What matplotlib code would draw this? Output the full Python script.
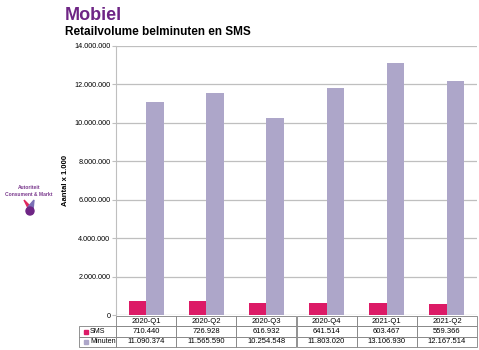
import numpy as np
import matplotlib.pyplot as plt
from matplotlib.patches import Polygon, Circle

quarters = ['2020-Q1', '2020-Q2', '2020-Q3', '2020-Q4', '2021-Q1', '2021-Q2']
sms = [710440, 726928, 616932, 641514, 603467, 559366]
minuten = [11090374, 11565590, 10254548, 11803020, 13106930, 12167514]
series_names = ['SMS', 'Minuten']
yticks = np.arange(0, 14000001, 2000000)

pink = '#DC1A66'
lav = '#ADA6C9'
grid_col = '#BFBFBF'
narrow = ['Liberation Sans Narrow', 'Liberation Sans', 'DejaVu Sans']

def fmt(v):
    return '{:,}'.format(int(v)).replace(',', '.')

plt.rcParams['font.family'] = ['Liberation Sans', 'DejaVu Sans']

fig = plt.figure(figsize=(4.79, 3.5), dpi=100)
ax = fig.add_axes([116/479, 1 - 315/350, 361/479, 269/350])

x = np.arange(len(quarters))
w = 0.29
ax.bar(x - w/2, sms, w, color=pink, zorder=3)
ax.bar(x + w/2, minuten, w, color=lav, zorder=3)

ax.set_xlim(-0.5, len(quarters) - 0.5)
ax.set_ylim(0, 14000000)
ax.set_yticks(yticks)
ax.set_yticklabels([fmt(v) if v else '0' for v in yticks], fontsize=5.2, family=narrow)
ax.yaxis.grid(True, color=grid_col, lw=0.9, zorder=0)
ax.set_xticks([])
for s in ['top', 'right', 'bottom']:
    ax.spines[s].set_visible(False)
ax.spines['left'].set_color(grid_col)
ax.tick_params(axis='y', length=3, color=grid_col, pad=1)
ax.set_ylabel('Aantal x 1.000', fontsize=5.5, fontweight='bold', labelpad=4)

# data table under the chart
cells = [[''] + quarters,
         [series_names[0]] + [fmt(v) for v in sms],
         [series_names[1]] + [fmt(v) for v in minuten]]
lab_w = 37 / 361
tbl = ax.table(cellText=cells, cellLoc='center',
               bbox=[-lab_w, -32/269, 1 + lab_w, 31/269],
               colWidths=[lab_w] + [1/6] * 6)
tbl.auto_set_font_size(False)
for (r, c), cell in tbl.get_celld().items():
    cell.set_fontsize(5.5)
    cell.get_text().set_family(narrow)
    cell.set_linewidth(0.6)
    cell.set_edgecolor('#808080')
    if c == 0:
        cell.set_fontsize(5.1)
        cell.PAD = 0.3
        cell._loc = 'left'
        cell.get_text().set_ha('left')
    if r == 0 and c == 0:
        cell.visible_edges = ''
# legend keys in the table
for i, col in enumerate([pink, lav]):
    yk = -32/269 + 31/269 * (1.5 - i) / 3
    ax.plot([-lab_w + 7/361], [yk], marker='s', ms=2.8, color=col,
            transform=ax.transAxes, clip_on=False)

# titles
fig.text(65/479, 1 - 20/350, 'Mobiel', fontsize=13, fontweight='bold', color='#6E2585')
fig.text(65/479, 1 - 35/350, 'Retailvolume belminuten en SMS', fontsize=8.5, fontweight='bold')

# ACM logo
fig.text(29/479, 1 - 189/350, 'Autoriteit', fontsize=3.6, fontweight='bold',
         color='#7B3A8E', ha='center')
fig.text(29/479, 1 - 196/350, 'Consument & Markt', fontsize=3.6, fontweight='bold',
         color='#7B3A8E', ha='center')
lax = fig.add_axes([19/479, 1 - 218/350, 20/479, 20/350])
lax.set_xlim(0, 1)
lax.set_ylim(0, 1)
lax.axis('off')
lax.add_patch(Polygon([[0.25, 0.9], [0.6, 0.55], [0.6, 0.2]], color='#E0285F'))
lax.add_patch(Polygon([[0.75, 0.9], [0.45, 0.55], [0.7, 0.4]], color='#7A6FB5'))
lax.add_patch(Circle((0.55, 0.35), 0.2, color='#6E2585'))

fig.savefig('out.png', dpi=100)
